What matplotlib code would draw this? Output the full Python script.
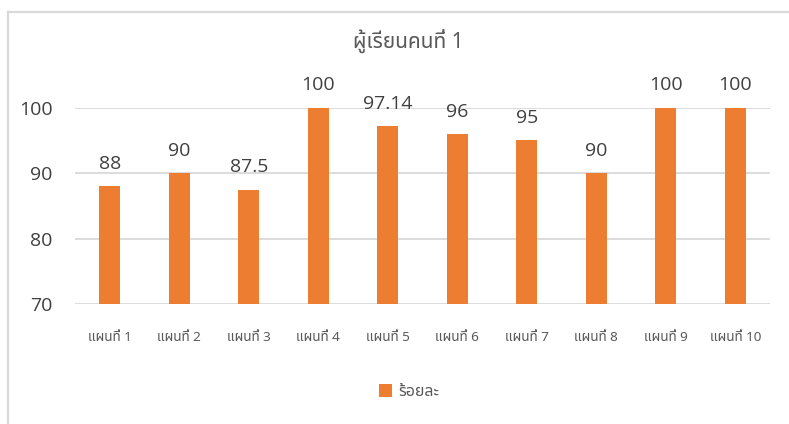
import matplotlib
matplotlib.use("Agg")
import matplotlib.pyplot as plt
from matplotlib.patches import Patch
from matplotlib.lines import Line2D

categories = ["แผนที่ 1", "แผนที่ 2", "แผนที่ 3", "แผนที่ 4", "แผนที่ 5",
              "แผนที่ 6", "แผนที่ 7", "แผนที่ 8", "แผนที่ 9", "แผนที่ 10"]
values = [88, 90, 87.5, 100, 97.14, 96, 95, 90, 100, 100]
value_labels = ["88", "90", "87.5", "100", "97.14", "96", "95", "90", "100", "100"]
yticks = [70, 80, 90, 100]
title = "ผู้เรียนคนที่ 1"
series_name = "ร้อยละ"

W, H = 789, 424
fig = plt.figure(figsize=(W / 100, H / 100), dpi=100)

thai = ["Noto Sans Thai", "DejaVu Sans"]
num = ["Open Sans", "DejaVu Sans"]
orange = "#ED7D31"
txt = "#595959"
dark = "#404040"
grid = "#D9D9D9"

# chart border (only left and top edges visible in crop)
fig.add_artist(Line2D([8 / W, 8 / W], [0, 1 - 11.5 / H], transform=fig.transFigure,
                      color=grid, lw=1.6))
fig.add_artist(Line2D([8 / W, 1.0], [1 - 11.5 / H, 1 - 11.5 / H], transform=fig.transFigure,
                      color=grid, lw=1.6))

left, right = 75 / W, 770 / W
bottom, top = 1 - 304.3 / H, 1 - 107.7 / H
ax = fig.add_axes([left, bottom, right - left, top - bottom])

x = list(range(len(categories)))
ax.bar(x, values, width=0.305, color=orange, zorder=3)
ax.set_xlim(-0.5, len(categories) - 0.5)
ax.set_ylim(70, 100)
ax.set_yticks(yticks)
ax.set_yticklabels([str(t) for t in yticks], family=num, fontsize=14, color=dark)
ax.set_xticks(x)
ax.set_xticklabels(categories, family=thai, fontsize=9.7, color=txt)
ax.tick_params(axis="both", length=0)
ax.tick_params(axis="y", pad=16)
ax.tick_params(axis="x", pad=19)
for s in ax.spines.values():
    s.set_visible(False)
ax.yaxis.grid(True, color=grid, lw=1.3, zorder=0)
ax.set_axisbelow(True)

for xi, v, lab in zip(x, values, value_labels):
    ax.annotate(lab, (xi, v), xytext=(0, 12.5), textcoords="offset points",
                ha="center", va="baseline", family=num, fontsize=14, color=dark)

fig.text(408 / W, 1 - 47.5 / H, title, ha="center", va="baseline",
         family=thai, fontsize=15, color=txt, fontweight="light")

fig.legend(handles=[Patch(facecolor=orange, edgecolor="none")], labels=[series_name],
           loc="center", bbox_to_anchor=(409.5 / W, 1 - 392 / H), frameon=False,
           prop={"family": thai, "size": 11.5}, labelcolor=txt,
           handlelength=0.8, handleheight=0.8, handletextpad=0.4)

fig.savefig("out.png", dpi=100)
